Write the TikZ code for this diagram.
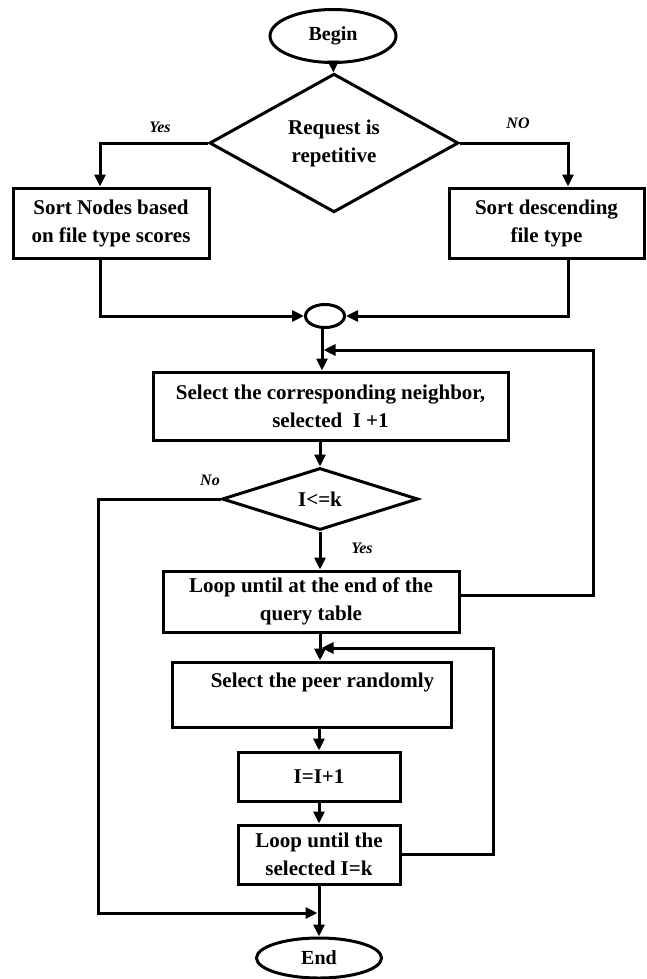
\documentclass[tikz,border=0pt]{standalone}
\usepackage{fontspec}
\setmainfont{Liberation Serif}
\usetikzlibrary{shapes.geometric,arrows.meta}
\begin{document}
\begin{tikzpicture}[x=1pt,y=-1pt,
  line width=3pt,
  every node/.style={font=\fontsize{21}{28}\selectfont\bfseries},
  box/.style={draw, rectangle, inner sep=0pt, align=center},
  term/.style={draw, ellipse, inner sep=0pt, font=\fontsize{20}{24}\selectfont\bfseries},
  dec/.style={draw, diamond, inner sep=0pt, align=center},
  lbl/.style={font=\fontsize{16}{18}\selectfont\bfseries\itshape},
  flow/.style={-{Triangle[length=12pt,width=11pt]}},
]
% canvas
\fill[white] (0,0) rectangle (647,979);
\useasboundingbox (0,0) rectangle (647,979);

% upper part: start, first decision, two sort branches
\node[term, minimum width=126pt, minimum height=53pt] (begin) at (333,36) {Begin};
\node[dec, minimum width=249pt, minimum height=111pt] (req) at (334,143) {Request is\\repetitive};
\node[box, minimum width=196pt, minimum height=70pt] (sortL) at (111,223) {Sort Nodes based\\on file type scores};
\node[box, minimum width=195pt, minimum height=70pt] (sortR) at (546.5,223) {Sort descending\\file type};
\node[draw, ellipse, inner sep=0pt, minimum width=39pt, minimum height=23pt] (join) at (325,316) {};

% neighbour selection loop
\node[box, minimum width=355pt, minimum height=68pt] (neigh) at (330.5,406) {Select the corresponding neighbor,\\selected~~I +1};
\node[dec, minimum width=196pt, minimum height=62pt] (cmp) at (320,499) {I<=k};
\node[box, minimum width=296pt, minimum height=61pt] (scan) at (311,601.5) {Loop until at the end of the\\query table};

% random peer loop
\node[box, minimum width=279pt, minimum height=65pt] (peer) at (311.5,694.5) {\hspace*{22pt}Select the peer randomly\\[0pt]~};
\node[box, minimum width=162pt, minimum height=49pt] (inc) at (319,776.5) {I=I+1};
\node[box, minimum width=162pt, minimum height=59pt] (untilk) at (319,854.5) {Loop until the\\selected I=k};
\node[term, minimum width=125pt, minimum height=40pt] (end) at (319,958) {End};

% branch labels
\node[lbl] (yes1) at (160,127) {Yes};
\node[lbl] (no1) at (518,123) {NO};
\node[lbl] (no2) at (210,480) {No};
\node[lbl] (yes2) at (362,548) {Yes};

% merge points on the main vertical line
\coordinate (merge1) at (323.5,350);
\coordinate (merge2) at (321.5,648);
\coordinate (merge3) at (317.5,913);

% connectors
\draw[flow] (begin) -- (req);
\draw[flow] (req.west) -| ([xshift=-11pt]sortL.north);
\draw[flow] (req.east) -| ([xshift=21.5pt]sortR.north);
\draw[flow] ([xshift=-11pt]sortL.south) |- (join.west);
\draw[flow] ([xshift=21.5pt]sortR.south) |- (join.east);
\draw[flow] ([xshift=-3pt]join.south) -- ([xshift=-3pt]join.south |- neigh.north);
\draw[flow] ([yshift=6pt]scan.east) -- ++(133,0) |- (merge1);
\draw[flow] (neigh.south -| cmp) -- (cmp.north);
\draw[flow] (cmp.south) -- (cmp.south |- scan.north);
\draw[flow] (cmp.south |- scan.south) -- (cmp.south |- peer.north);
\draw[flow] (untilk.east) -- ++(92,0) |- (merge2);
\draw[flow] (inc.north |- peer.south) -- (inc.north);
\draw[flow] (inc) -- (untilk);
\draw[flow] (untilk) -- (end);
\draw[flow] (cmp.west) -- ++(-122,0) |- (merge3);
\end{tikzpicture}
\end{document}
